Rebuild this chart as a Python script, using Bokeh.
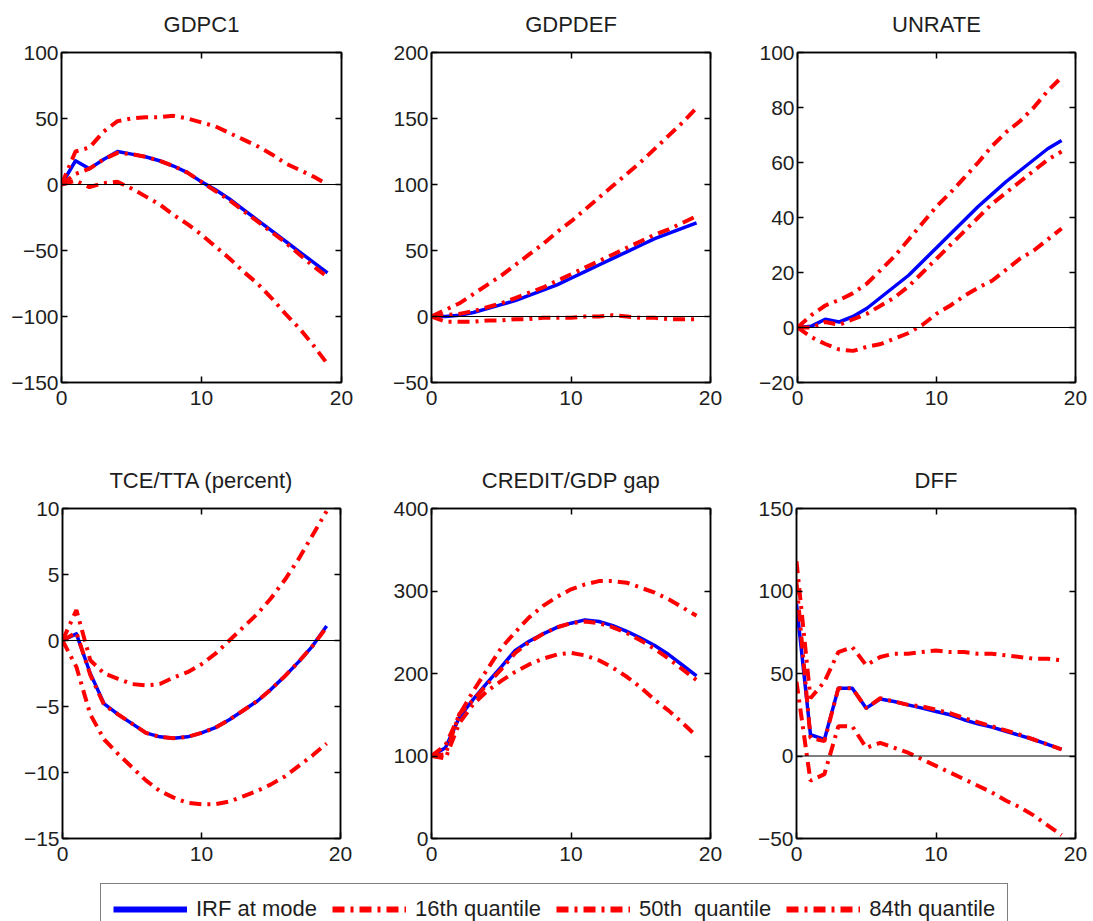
from bokeh.plotting import figure
from bokeh.models import (Range1d, FixedTicker, LinearAxis, Span, Legend, LegendItem,
                          CustomLabelingPolicy)
from bokeh.layouts import column, row
from bokeh.embed import file_html
from bokeh.resources import INLINE

horizon = list(range(20))
x_ticks = [0, 10, 20]

# GDPC1
gdpc1_mode = [0, 18, 12, 19, 25, 23, 21, 18, 14, 9, 2, -4, -11, -19, -27, -35, -43, -51, -59, -67]
gdpc1_q16 = [0, 3, -2, 1, 2, -3, -9, -15, -23, -30, -38, -47, -56, -66, -75, -86, -98, -109, -122, -136]
gdpc1_q50 = [0, 8, 12, 19, 24, 23, 21, 18, 14, 9, 2, -5, -12, -20, -28, -36, -44, -53, -62, -70]
gdpc1_q84 = [0, 25, 28, 40, 48, 50, 51, 51, 52, 50, 47, 44, 39, 34, 29, 23, 16, 11, 6, 0]

# GDPDEF
gdpdef_mode = [0, 0, 1, 3, 6, 9, 12, 16, 20, 24, 29, 34, 39, 44, 49, 54, 59, 63, 67, 71]
gdpdef_q16 = [0, -4, -4, -4, -3, -3, -2, -2, -1, -1, -1, 0, 0, 1, 0, -1, -1, -2, -2, -2]
gdpdef_q50 = [0, 1, 2, 4, 7, 10, 14, 18, 22, 27, 32, 37, 42, 47, 52, 57, 62, 66, 71, 76]
gdpdef_q84 = [0, 5, 10, 17, 24, 31, 39, 47, 55, 64, 72, 81, 90, 99, 108, 117, 127, 137, 147, 158]

# UNRATE
unrate_mode = [0, 0.5, 3, 2, 4, 7, 11, 15, 19, 24, 29, 34, 39, 44, 48.5, 53, 57, 61, 65, 68]
unrate_q16 = [0, -3.5, -6, -8, -8.5, -7, -6, -4, -2, 1, 5, 8, 11.5, 14.5, 17, 21, 25, 28, 32, 36]
unrate_q50 = [0, 0, 2, 1, 3, 5, 8, 11, 15, 20, 25, 30, 35, 40, 45, 49, 53, 57, 61, 64]
unrate_q84 = [0, 4.5, 8, 10, 12.5, 16, 21, 26, 32, 38, 44, 49, 54.5, 60, 66, 71, 75, 80, 86, 91]

# TCE/TTA
tce_mode = [0, 0.5, -2.5, -4.8, -5.6, -6.3, -7, -7.3, -7.4, -7.3, -7, -6.6, -6, -5.3, -4.6, -3.7, -2.7, -1.6, -0.4, 1.1]
tce_q16 = [0, -2, -5.6, -7.5, -8.6, -9.6, -10.6, -11.4, -11.9, -12.3, -12.4, -12.4, -12.2, -11.8, -11.4, -10.9, -10.3, -9.5, -8.7, -7.8]
tce_q50 = [0, 0.6, -2.6, -4.9, -5.6, -6.3, -7, -7.3, -7.4, -7.3, -7.0, -6.6, -6.0, -5.3, -4.6, -3.7, -2.7, -1.6, -0.4, 1.0]
tce_q84 = [0, 2.3, -1.5, -2.5, -2.9, -3.3, -3.4, -3.3, -2.8, -2.4, -1.8, -1.0, 0, 1, 2, 3.2, 4.6, 6.2, 8, 9.8]

# CREDIT/GDP gap
credit_mode = [100, 110, 147, 169, 189, 208, 228, 239, 248, 256, 261, 265, 263, 258, 251, 243, 234, 223, 210, 197]
credit_q16 = [100, 97, 140, 163, 179, 191, 202, 211, 218, 223, 225, 222, 216, 207, 196, 183, 168, 155, 140, 124]
credit_q50 = [100, 102, 151, 168, 187, 205, 225, 238, 248, 256, 261, 263, 261, 256, 249, 240, 230, 218, 205, 192]
credit_q84 = [100, 113, 150, 179, 205, 231, 250, 268, 282, 293, 302, 308, 312, 312, 310, 304, 298, 290, 280, 270]

# DFF
dff_mode = [92, 13, 10, 41, 41, 29, 34.5, 33, 31, 29, 27, 25, 22, 19.5, 17.5, 15, 12.5, 10, 7, 4]
dff_q16 = [45, -15, -11, 18, 18, 5, 8, 5, 2, -2, -6, -10, -14, -18, -22, -27, -31, -36, -42, -48]
dff_q50 = [105, 11, 9, 41, 41, 29, 35, 33, 31, 30, 28, 26, 23, 20.5, 18, 15.5, 13, 10, 7, 4]
dff_q84 = [118, 35, 45, 63, 66, 55, 60, 62, 62, 63, 64, 63, 63, 62, 62, 61, 60, 59, 59, 58]

legend_labels = ["IRF at mode", "16th quantile", "50th  quantile", "84th quantile"]

FONT = "Liberation Sans"
TXT = "#1e1e1e"
BLUE = "#0000ff"
RED = "#ff0000"
DASH = "12 6 3 6"

NO_LABELS = "for (const i of [...indices]) { indices.unset(i) }\nreturn indices"


def fmt_overrides(ticks):
    return {t: ("\u2212" + str(abs(t)) if t < 0 else str(t)) for t in ticks}


def make_panel(title, lo, hi, yticks, mode, q16, q50, q84, width, height, bl, br, bt, bb):
    p = figure(width=width, height=height, x_range=Range1d(0, 20), y_range=Range1d(lo, hi),
               output_backend="svg", toolbar_location=None, title=title,
               min_border_left=bl, min_border_right=br, min_border_top=bt, min_border_bottom=bb,
               background_fill_color="white", border_fill_color="white",
               outline_line_color="black", outline_line_width=1.5)
    p.title.align = "center"
    p.title.text_font = FONT
    p.title.text_font_size = "22px"
    p.title.text_font_style = "normal"
    p.title.text_color = TXT
    p.title.standoff = 9
    p.grid.visible = False

    for ax, ticks in ((p.xaxis[0], x_ticks), (p.yaxis[0], yticks)):
        ax.ticker = FixedTicker(ticks=ticks)
        ax.major_label_overrides = fmt_overrides(ticks)
        ax.major_tick_in = 6
        ax.major_tick_out = 0
        ax.minor_tick_in = 0
        ax.minor_tick_out = 0
        ax.axis_line_color = "black"
        ax.axis_line_width = 1.5
        ax.major_tick_line_color = "black"
        ax.major_tick_line_width = 1.5
        ax.major_label_text_font = FONT
        ax.major_label_text_font_size = "21px"
        ax.major_label_text_color = TXT
    p.xaxis[0].major_label_standoff = 8
    p.yaxis[0].major_label_standoff = 3

    for loc, ticks, fs in (("right", yticks, "1px"), ("above", x_ticks, "11px")):
        ax = LinearAxis(ticker=FixedTicker(ticks=ticks),
                        major_label_policy=CustomLabelingPolicy(code=NO_LABELS),
                        major_label_text_font_size=fs,
                        major_label_standoff=0, major_tick_in=6, major_tick_out=0,
                        minor_tick_in=0, minor_tick_out=0, axis_line_color="black",
                        axis_line_width=1.5, major_tick_line_color="black",
                        major_tick_line_width=1.5)
        p.add_layout(ax, loc)

    p.add_layout(Span(location=0, dimension="width", line_color="black", line_width=1.2))

    p.line(horizon, mode, line_color=BLUE, line_width=3.5, line_join="round")
    for q in (q16, q50, q84):
        p.line(horizon, q, line_color=RED, line_width=4, line_dash=DASH)
    return p


R1H, R2H = 440, 431
p1 = make_panel("GDPC1", -150, 100, [-150, -100, -50, 0, 50, 100],
                gdpc1_mode, gdpc1_q16, gdpc1_q50, gdpc1_q84, 386, R1H, 61, 45, 52, 58)
p2 = make_panel("GDPDEF", -50, 200, [-50, 0, 50, 100, 150, 200],
                gdpdef_mode, gdpdef_q16, gdpdef_q50, gdpdef_q84, 366, R1H, 45, 42, 52, 58)
p3 = make_panel("UNRATE", -20, 100, [-20, 0, 20, 40, 60, 80, 100],
                unrate_mode, unrate_q16, unrate_q50, unrate_q84, 338, R1H, 45, 15, 52, 58)
p4 = make_panel("TCE/TTA (percent)", -15, 10, [-15, -10, -5, 0, 5, 10],
                tce_mode, tce_q16, tce_q50, tce_q84, 386, R2H, 62, 46, 68, 33)
p5 = make_panel("CREDIT/GDP gap", 0, 400, [0, 100, 200, 300, 400],
                credit_mode, credit_q16, credit_q50, credit_q84, 366, R2H, 45, 42, 68, 33)
p6 = make_panel("DFF", -50, 150, [-50, 0, 50, 100, 150],
                dff_mode, dff_q16, dff_q50, dff_q84, 338, R2H, 44, 15, 68, 33)

# legend strip: the series are drawn off-frame (x range far right), only their legend samples show
lf = figure(width=1090, height=921 - R1H - R2H, x_range=Range1d(100, 101), y_range=Range1d(0, 1),
            x_axis_type=None, y_axis_type=None, output_backend="svg", toolbar_location=None,
            min_border_left=100, min_border_right=0, min_border_top=12, min_border_bottom=0,
            outline_line_color=None, background_fill_color="white", border_fill_color="white")
lf.grid.visible = False
r_mode = lf.line(horizon, gdpc1_mode, line_color=BLUE, line_width=6)
r_q = [lf.line(horizon, q, line_color=RED, line_width=6, line_dash=DASH)
       for q in (gdpc1_q16, gdpc1_q50, gdpc1_q84)]
legend = Legend(items=[LegendItem(label=legend_labels[0], renderers=[r_mode])] +
                [LegendItem(label=lab, renderers=[r]) for lab, r in zip(legend_labels[1:], r_q)],
                orientation="horizontal", location="top_left", margin=0, padding=12,
                spacing=15, glyph_width=74, glyph_height=20, label_standoff=9,
                label_text_font=FONT, label_text_font_size="22px", label_text_color=TXT,
                border_line_color="black", border_line_width=1.2, background_fill_alpha=1)
lf.add_layout(legend)

layout = column(row(p1, p2, p3), row(p4, p5, p6), lf)
open("out.html", "w").write(file_html(layout, INLINE))
